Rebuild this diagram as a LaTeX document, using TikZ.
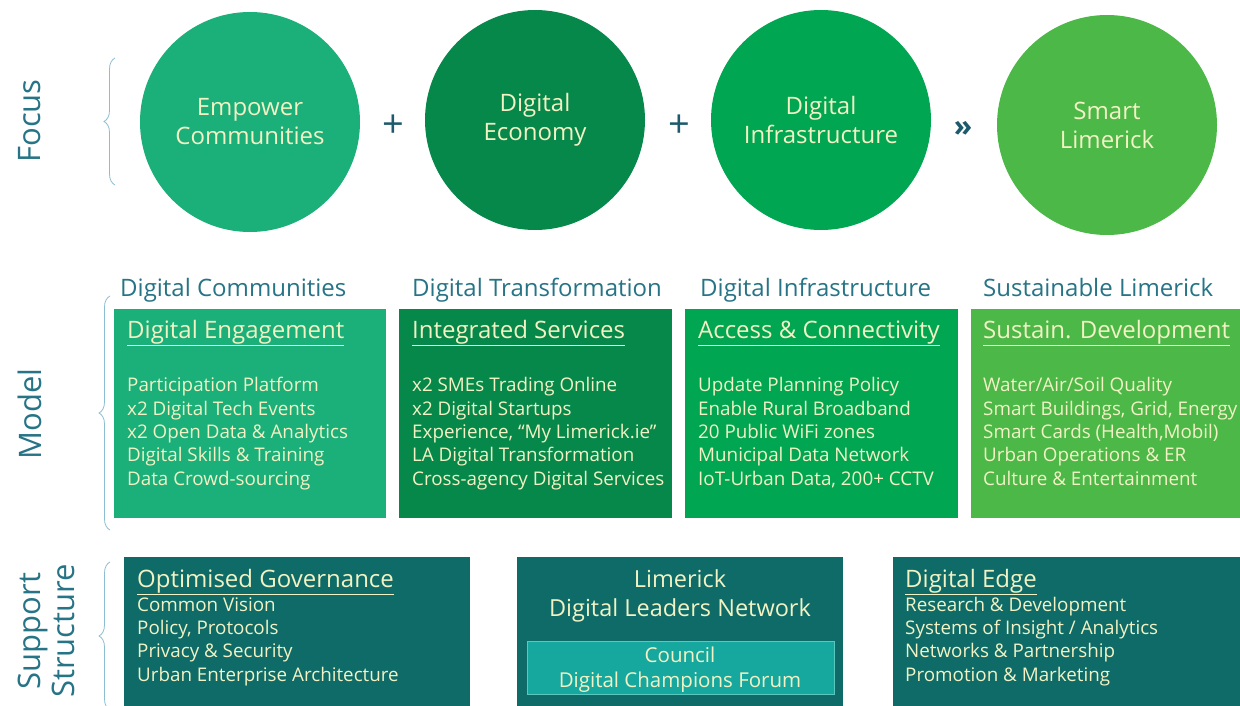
\documentclass[tikz,border=0pt]{standalone}
\usepackage{fontspec}
\setmainfont{Open Sans}
\usetikzlibrary{positioning,decorations.pathreplacing}
\definecolor{cempower}{RGB}{27,175,122}
\definecolor{ceconomy}{RGB}{6,136,74}
\definecolor{cinfra}{RGB}{0,166,81}
\definecolor{csmart}{RGB}{76,184,72}
\definecolor{csupport}{RGB}{14,107,104}
\definecolor{cforum}{RGB}{22,168,158}
\definecolor{cforumline}{RGB}{90,200,190}
\definecolor{cream}{RGB}{242,242,196}
\definecolor{labelteal}{RGB}{38,116,134}
\definecolor{optext}{RGB}{30,90,110}
\definecolor{bracecol}{RGB}{140,190,210}

\begin{document}
\begin{tikzpicture}[x=1pt,y=-1pt,
    focus/.style={circle,minimum size=220pt,inner sep=0pt,align=center,text=cream,font=\fontsize{24}{29}\selectfont},
    op/.style={text=optext,inner sep=0pt,font=\fontsize{38}{38}\selectfont},
    side/.style={rotate=90,text=labelteal,align=center,inner sep=0pt,font=\fontsize{31}{34}\selectfont},
    head/.style={anchor=base west,text=labelteal,inner sep=0pt,font=\fontsize{24}{24}\selectfont},
    tilebox/.style={anchor=north west,inner sep=0pt},
    boxtitle/.style={anchor=base west,text=cream,inner sep=0pt,font=\fontsize{24}{24}\selectfont},
    items/.style={anchor=base west,text=cream,align=left,inner sep=0pt,font=\fontsize{18.8}{23.3}\selectfont},
    brace/.style={decorate,decoration={brace,amplitude=11pt},draw=bracecol,line width=0.8pt}]
  \useasboundingbox[fill=white] (0,0) rectangle (1240,706);

  % focus row
  \node[side] (focuslbl) at (30,121) {Focus};
  \draw[brace] (115,185) -- (115,58);
  \node[focus,fill=cempower] (empower) at (250,122) {Empower\\Communities};
  \node[focus,fill=ceconomy] (economy) at (535,120) {Digital\\Economy};
  \node[focus,fill=cinfra] (infra) at (821,120) {Digital\\Infrastructure};
  \node[focus,fill=csmart] (smart) at (1107,125) {Smart\\Limerick};
  \node[op] (plusa) at (393,126) {+};
  \node[op] (plusb) at (679,126) {+};
  \node[op,font=\fontsize{30}{30}\bfseries] (leads) at (963,129) {»};

  % model row
  \node[side] (modellbl) at (30,414) {Model};
  \draw[brace] (110,530) -- (110,296);
  \node[head] (hcomm) at (120,296) {Digital Communities};
  \node[head] (htrans) at (412,296) {Digital Transformation};
  \node[head] (hinfra) at (700,296) {Digital Infrastructure};
  \node[head] (hsust) at (983,296) {Sustainable Limerick};

  \node[tilebox,fill=cempower,minimum width=272pt,minimum height=209pt] (engage) at (114,309) {};
  \node[tilebox,fill=ceconomy,minimum width=273pt,minimum height=209pt] (integr) at (399,309) {};
  \node[tilebox,fill=cinfra,minimum width=273pt,minimum height=209pt] (access) at (685,309) {};
  \node[tilebox,fill=csmart,minimum width=272pt,minimum height=209pt] (sustain) at (971,309) {};

  \node[boxtitle] (tengage) at (127,338) {\underline{Digital Engagement}};
  \node[boxtitle] (tintegr) at (412,338) {\underline{Integrated Services}};
  \node[boxtitle] (taccess) at (698,338) {\underline{Access \& Connectivity}};
  \node[boxtitle] (tsustain) at (983,338) {\underline{Sustain. Development}};

  % base of a list = baseline of its last line
  \node[items] (lengage) at (127,485) {Participation Platform\\x2 Digital Tech Events\\x2 Open Data \& Analytics\\Digital Skills \& Training\\Data Crowd-sourcing};
  \node[items] (lintegr) at (412,485) {x2 SMEs Trading Online\\x2 Digital Startups\\Experience, “My Limerick.ie”\\LA Digital Transformation\\Cross-agency Digital Services};
  \node[items] (laccess) at (698,485) {Update Planning Policy\\Enable Rural Broadband\\20 Public WiFi zones\\Municipal Data Network\\IoT-Urban Data, 200+ CCTV};
  \node[items] (lsustain) at (983,485) {Water/Air/Soil Quality\\Smart Buildings, Grid, Energy\\Smart Cards (Health,Mobil)\\Urban Operations \& ER\\Culture \& Entertainment};

  % support row
  \node[side] (supportlbl) at (46,631) {Support\\Structure};
  \draw[brace] (110,710) -- (110,562);
  \node[tilebox,fill=csupport,minimum width=346pt,minimum height=155pt] (govern) at (124,557) {};
  \node[tilebox,fill=csupport,minimum width=326pt,minimum height=155pt] (leaders) at (517,557) {};
  \node[tilebox,fill=csupport,minimum width=350pt,minimum height=155pt] (edge) at (893,557) {};
  \node[tilebox,fill=cforum,draw=cforumline,line width=0.8pt,minimum width=307pt,minimum height=53pt] (forum) at (527,641) {};

  \node[boxtitle] (tgovern) at (137,587) {\underline{Optimised Governance}};
  \node[items] (lgovern) at (137,681) {Common Vision\\Policy, Protocols\\Privacy \& Security\\Urban Enterprise Architecture};
  \node[boxtitle,anchor=base,align=center,font=\fontsize{23.5}{29}\selectfont] (tleaders) at (680,616) {Limerick\\Digital Leaders Network};
  \node[items,anchor=base,align=center,font=\fontsize{20.5}{25}\selectfont] (tforum) at (680,687) {Council\\Digital Champions Forum};
  \node[boxtitle] (tedge) at (905,587) {\underline{Digital Edge}};
  \node[items] (ledge) at (905,681) {Research \& Development\\Systems of Insight / Analytics\\Networks \& Partnership\\Promotion \& Marketing};
\end{tikzpicture}
\end{document}
